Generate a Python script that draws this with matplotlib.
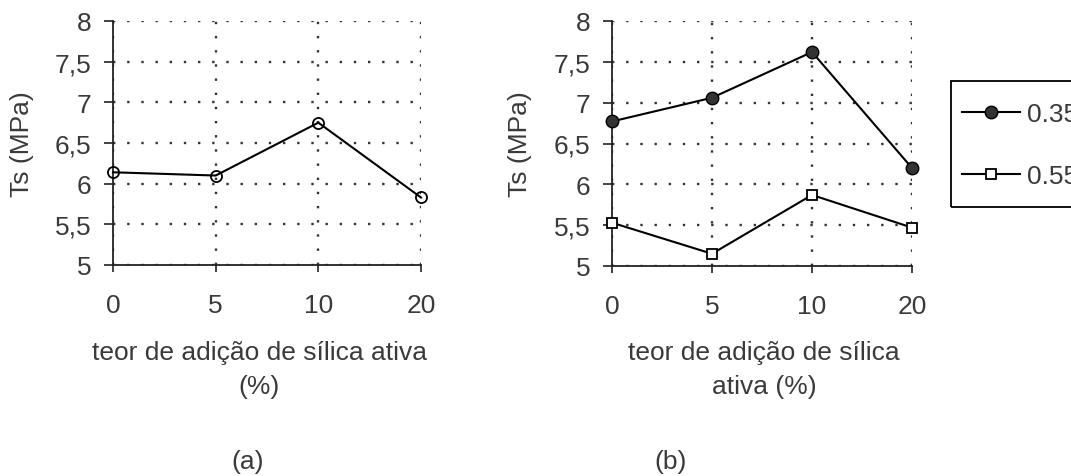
import matplotlib
matplotlib.use("Agg")
import matplotlib.pyplot as plt
from matplotlib.patches import Rectangle
from matplotlib.ticker import FixedLocator, FixedFormatter

# ---- data ----
categories = ["0", "5", "10", "20"]
ts_a = [6.14, 6.10, 6.75, 5.83]
ts_b_035 = [6.77, 7.06, 7.62, 6.20]
ts_b_055 = [5.53, 5.15, 5.87, 5.47]
series_labels = ["0.35", "0.55"]
yticks = [5, 5.5, 6, 6.5, 7, 7.5, 8]
ytick_labels = ["5", "5,5", "6", "6,5", "7", "7,5", "8"]
xlabel_a = "teor de adição de sílica ativa\n(%)"
xlabel_b = "teor de adição de sílica\nativa (%)"
ylabel = "Ts (MPa)"

W, H = 1071, 477
plt.rcParams['font.family'] = ['Liberation Sans', 'DejaVu Sans']
FS = 19
TXT = '#3a3a3a'

fig = plt.figure(figsize=(W / 100, H / 100), dpi=100)


def px_axes(l, r, t, b):
    return fig.add_axes([l / W, 1 - b / H, (r - l) / W, (b - t) / H])


def style(ax, left_px, right_px, top_px, bot_px, ylab_x_px, xlab_center_px, xlab):
    x = list(range(len(categories)))
    ax.set_xlim(0, len(categories) - 1)
    ax.set_ylim(5, 8)
    ax.xaxis.set_major_locator(FixedLocator(x))
    ax.xaxis.set_major_formatter(FixedFormatter(categories))
    ax.yaxis.set_major_locator(FixedLocator(yticks))
    ax.yaxis.set_major_formatter(FixedFormatter(ytick_labels))
    for s in ['top', 'right']:
        ax.spines[s].set_visible(False)
    for s in ['left', 'bottom']:
        ax.spines[s].set_linewidth(1.3)
        ax.spines[s].set_color('#222222')
    ax.grid(True, linestyle=(0, (1, 5)), linewidth=1.7, color='#333333')
    ax.set_axisbelow(True)
    ax.tick_params(axis='y', direction='out', length=6.5, width=1.2, pad=9,
                   labelsize=FS, labelcolor=TXT, color='#222222')
    ax.tick_params(axis='x', direction='out', length=5, width=1.2, pad=15,
                   labelsize=FS, labelcolor=TXT, color='#222222')
    wpx = right_px - left_px
    hpx = bot_px - top_px
    ax.set_ylabel(ylabel, fontsize=FS, color=TXT, va='center')
    ax.yaxis.set_label_coords((ylab_x_px - left_px) / wpx, 0.5)
    ax.set_xlabel(xlab, fontsize=FS, color=TXT, linespacing=1.55, va='top')
    ax.xaxis.set_label_coords((xlab_center_px - left_px) / wpx, -(341 - bot_px) / hpx)


# ---- panel (a) ----
ax1 = px_axes(113, 421, 22, 266)
x = list(range(len(categories)))
ax1.plot(x, ts_a, color='black', linewidth=1.5, marker='o', markersize=8,
         markerfacecolor='none', markeredgecolor='black', markeredgewidth=1.3,
         clip_on=False, zorder=5)
style(ax1, 113, 421, 22, 266, 22, 259, xlabel_a)

# ---- panel (b) ----
ax2 = px_axes(612, 912, 22, 267)
ax2.plot(x, ts_b_035, color='black', linewidth=1.5, marker='o', markersize=9,
         markerfacecolor='#333333', markeredgecolor='black', markeredgewidth=1.0,
         clip_on=False, zorder=5, label=series_labels[0])
ax2.plot(x, ts_b_055, color='black', linewidth=1.5, marker='s', markersize=7.5,
         markerfacecolor='white', markeredgecolor='black', markeredgewidth=1.3,
         clip_on=False, zorder=5, label=series_labels[1])
style(ax2, 612, 912, 22, 267, 520, 764, xlabel_b)

# legend entries (no frame) + separate square frame
leg = ax2.legend(loc='upper left', bbox_to_anchor=(962 / W, 1 - 103 / H),
                 bbox_transform=fig.transFigure, frameon=False,
                 fontsize=FS, handlelength=2.2, handletextpad=0.25,
                 labelspacing=1.45, borderpad=0, borderaxespad=0)
for t in leg.get_texts():
    t.set_color(TXT)
fig.patches.append(Rectangle((951 / W, 1 - 208 / H), 140 / W, 126 / H,
                             transform=fig.transFigure, fill=False,
                             edgecolor='black', linewidth=1.3))

fig.text(248 / W, 1 - 462 / H, "(a)", fontsize=FS, color=TXT, ha='center', va='center')
fig.text(671 / W, 1 - 462 / H, "(b)", fontsize=FS, color=TXT, ha='center', va='center')

fig.savefig("out.png", dpi=100)
